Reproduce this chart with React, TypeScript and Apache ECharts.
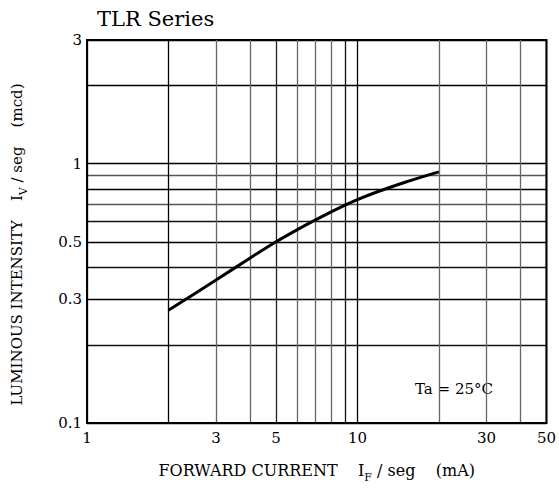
import React, { useEffect, useRef } from "react";
import * as echarts from "echarts";

const currentMA = [2, 3, 4, 5, 6, 7, 8, 9, 10, 12, 15, 17, 20];
const intensityMcd = [0.272, 0.356, 0.432, 0.5, 0.557, 0.607, 0.652, 0.692, 0.727, 0.783, 0.848, 0.884, 0.93];

const xGridValues = [1, 2, 3, 4, 5, 6, 7, 8, 9, 10, 20, 30, 40, 50];
const xGridColors = ["#000", "#000", "#666", "#666", "#222", "#666", "#666", "#666", "#111", "#000", "#666", "#666", "#666", "#000"];
const xLabelValues = [1, 3, 5, 10, 30, 50];

const yGridValues = [0.1, 0.2, 0.3, 0.4, 0.5, 0.6, 0.7, 0.8, 0.9, 1, 2, 3];
const yGridColors = ["#000", "#111", "#000", "#111", "#000", "#111", "#555", "#000", "#555", "#000", "#000", "#000"];
const yLabelValues = [0.1, 0.3, 0.5, 1, 3];

const titleText = "TLR Series";
const noteText = "Ta = 25°C";

const FONT = "'DejaVu Serif', serif";

export default function App() {
  const ref = useRef<HTMLDivElement>(null);
  useEffect(() => {
    if (!ref.current) return;
    const chart = echarts.init(ref.current, undefined, { renderer: "svg" });
    const data = currentMA.map((x, i) => [x, intensityMcd[i]]);
    chart.setOption({
      animation: false,
      backgroundColor: "#fff",
      grid: {
        left: 87,
        right: 11,
        top: 40,
        bottom: 64,
        show: true,
        borderColor: "#000",
        borderWidth: 2,
      },
      graphic: [
        {
          type: "text",
          x: 97,
          y: 19,
          style: { text: titleText, font: "21px " + FONT, fill: "#000", verticalAlign: "middle" },
        },
        {
          type: "text",
          x: 415,
          y: 389,
          style: { text: noteText, font: "15px " + FONT, fill: "#000", verticalAlign: "middle" },
        },
      ],
      xAxis: {
        type: "log",
        logBase: 10,
        min: 1,
        max: 50,
        name: "{a|FORWARD CURRENT    I}{s|F}{a| / seg    (mA)}",
        nameLocation: "middle",
        nameGap: 35,
        nameTextStyle: {
          rich: {
            a: { fontFamily: FONT, fontSize: 16, color: "#000", lineHeight: 20, verticalAlign: "middle" },
            s: { fontFamily: FONT, fontSize: 11, color: "#000", lineHeight: 25, verticalAlign: "bottom" },
          },
        },
        axisLine: { show: true, lineStyle: { color: "#000", width: 2 } },
        axisTick: { show: false, customValues: xGridValues },
        axisLabel: {
          customValues: xLabelValues,
          fontFamily: FONT,
          fontSize: 15,
          color: "#000",
          margin: 7,
          formatter: (v: number) => String(v),
        },
        splitLine: { show: true, lineStyle: { color: xGridColors, width: 1.3 } },
      },
      yAxis: {
        type: "log",
        logBase: 10,
        min: 0.1,
        max: 3,
        name: "{a|LUMINOUS INTENSITY    I}{s|V}{a| / seg    (mcd)}",
        nameLocation: "middle",
        nameGap: 58,
        nameRotate: 90,
        nameTextStyle: {
          padding: [0, 26, 0, 0],
          rich: {
            a: { fontFamily: FONT, fontSize: 15, color: "#000", lineHeight: 20, verticalAlign: "middle" },
            s: { fontFamily: FONT, fontSize: 11, color: "#000", lineHeight: 25, verticalAlign: "bottom" },
          },
        },
        axisLine: { show: true, lineStyle: { color: "#000", width: 2 } },
        axisTick: { show: false, customValues: yGridValues },
        axisLabel: {
          customValues: yLabelValues,
          fontFamily: FONT,
          fontSize: 15,
          color: "#000",
          margin: 5,
          formatter: (v: number) => String(v),
        },
        splitLine: { show: true, lineStyle: { color: yGridColors, width: 1.3 } },
      },
      series: [
        {
          type: "line",
          data,
          smooth: 0.3,
          showSymbol: false,
          lineStyle: { color: "#000", width: 3 },
        },
      ],
    });
    return () => chart.dispose();
  }, []);
  return <div ref={ref} style={{ width: 559, height: 488, position: "absolute", left: 0, top: 0 }} />;
}
